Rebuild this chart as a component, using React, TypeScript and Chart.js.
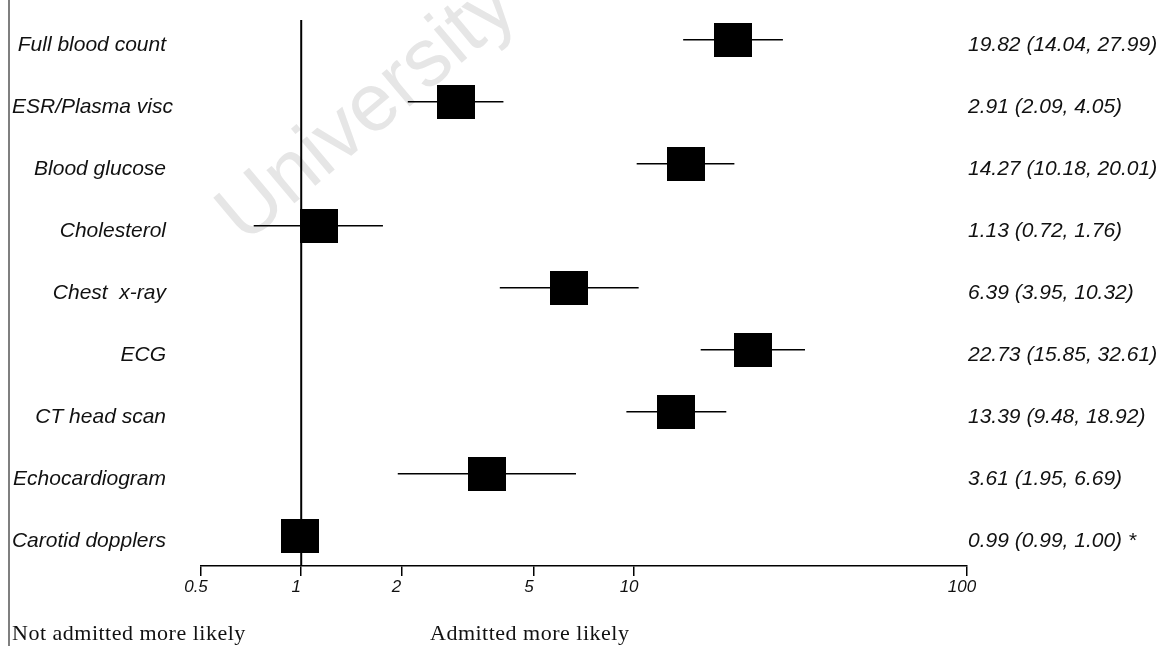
import React, { useEffect, useRef } from "react";
import { Chart, registerables } from "chart.js";

Chart.register(...registerables);

// ---------- data ----------
const categories = [
  "Full blood count",
  "ESR/Plasma visc",
  "Blood glucose",
  "Cholesterol",
  "Chest  x-ray",
  "ECG",
  "CT head scan",
  "Echocardiogram",
  "Carotid dopplers",
];
const estimates = [19.82, 2.91, 14.27, 1.13, 6.39, 22.73, 13.39, 3.61, 0.99];
const lowerCI = [14.04, 2.09, 10.18, 0.72, 3.95, 15.85, 9.48, 1.95, 0.99];
const upperCI = [27.99, 4.05, 20.01, 1.76, 10.32, 32.61, 18.92, 6.69, 1.0];
const valueLabels = [
  "19.82 (14.04, 27.99)",
  "2.91 (2.09, 4.05)",
  "14.27 (10.18, 20.01)",
  "1.13 (0.72, 1.76)",
  "6.39 (3.95, 10.32)",
  "22.73 (15.85, 32.61)",
  "13.39 (9.48, 18.92)",
  "3.61 (1.95, 6.69)",
  "0.99 (0.99, 1.00) *",
];
const tickValues = [0.5, 1, 2, 5, 10, 100];
const tickLabels = ["0.5", "1", "2", "5", "10", "100"];
const referenceValue = 1;
const footerLeft = "Not admitted more likely";
const footerRight = "Admitted more likely";
const watermarkText = "University";

// ---------- layout ----------
const W = 1162;
const H = 646;
const AXIS_Y = 566;
const TOP_Y = 16;
const Y_MIN = -0.32;
const Y_MAX = 8.49;
const SANS = '"Liberation Sans", Arial, Helvetica, sans-serif';
const SERIF = '"Liberation Serif", "Times New Roman", serif';
const labelRightX = 166;
const valueLeftX = 968;

function makeSquare(): HTMLCanvasElement {
  const c = document.createElement("canvas");
  c.width = 38;
  c.height = 34;
  const g = c.getContext("2d")!;
  g.fillStyle = "#000";
  g.fillRect(0, 0, 38, 34);
  return c;
}

const textPlugin = {
  id: "forestText",
  beforeDraw(chart: any) {
    const { ctx } = chart;
    ctx.save();
    // scan frame line on the left
    ctx.strokeStyle = "#555";
    ctx.lineWidth = 1.5;
    ctx.beginPath();
    ctx.moveTo(9, 0);
    ctx.lineTo(9, H);
    ctx.stroke();
    // watermark
    ctx.translate(368, 112);
    ctx.rotate((-40 * Math.PI) / 180);
    ctx.font = `82px ${SANS}`;
    ctx.fillStyle = "#e6e6e6";
    ctx.textAlign = "center";
    ctx.textBaseline = "middle";
    ctx.fillText(watermarkText, 0, 0);
    ctx.restore();
  },
  afterDraw(chart: any) {
    const { ctx } = chart;
    const y = chart.scales.y;
    ctx.save();
    ctx.fillStyle = "#111";
    ctx.textBaseline = "alphabetic";
    ctx.font = `italic 21px ${SANS}`;
    categories.forEach((c, i) => {
      const py = y.getPixelForValue(i) + 11;
      if (i === 1) {
        ctx.textAlign = "left";
        ctx.fillText(c, 12, py);
      } else {
        ctx.textAlign = "right";
        ctx.fillText(c, labelRightX, py);
      }
      ctx.textAlign = "left";
      ctx.fillText(valueLabels[i], valueLeftX, py);
    });
    ctx.font = `22px ${SERIF}`;
    try {
      (ctx as any).letterSpacing = "0.5px";
    } catch (e) {}
    ctx.textAlign = "left";
    ctx.fillText(footerLeft, 12, 640);
    ctx.fillText(footerRight, 430, 640);
    ctx.restore();
  },
};

export default function App() {
  const ref = useRef<HTMLCanvasElement>(null);
  useEffect(() => {
    if (!ref.current) return;
    const square = makeSquare();
    const whiskers = categories.map((_, i) => ({
      data: [
        { x: lowerCI[i], y: i },
        { x: upperCI[i], y: i },
      ],
      showLine: true,
      borderColor: "#000",
      borderWidth: 1.5,
      pointRadius: 0,
      order: 2,
      clip: false as any,
    }));
    const chart = new Chart(ref.current, {
      type: "scatter",
      data: {
        datasets: [
          {
            data: estimates.map((v, i) => ({ x: v, y: i })),
            pointStyle: square as any,
            pointRadius: 19,
            backgroundColor: "#000",
            borderColor: "#000",
            order: 0,
            clip: false as any,
          },
          {
            data: [
              { x: referenceValue, y: Y_MIN },
              { x: referenceValue, y: Y_MAX },
            ],
            showLine: true,
            borderColor: "#000",
            borderWidth: 2,
            pointRadius: 0,
            order: 1,
            clip: false as any,
          },
          ...whiskers,
        ] as any,
      },
      options: {
        responsive: false,
        animation: false,
        events: [],
        layout: { padding: { left: 201, right: W - 967, top: TOP_Y, bottom: 0 } },
        plugins: { legend: { display: false }, tooltip: { enabled: false } },
        scales: {
          x: {
            type: "logarithmic",
            min: 0.5,
            max: 100,
            position: "bottom",
            afterBuildTicks: (s: any) => {
              s.ticks = tickValues.map((v) => ({ value: v }));
            },
            afterFit: (s: any) => {
              s.height = H - AXIS_Y;
            },
            ticks: {
              callback: (_v: any, i: number) => tickLabels[i],
              font: { family: SANS, size: 17, style: "italic" },
              color: "#111",
              padding: 1,
              maxRotation: 0,
              autoSkip: false,
              labelOffset: -5,
            },
            grid: {
              display: true,
              drawOnChartArea: false,
              drawTicks: true,
              tickLength: 10,
              color: "#000",
              lineWidth: 1.5,
            },
            border: { display: true, color: "#000", width: 1.5 },
          } as any,
          y: {
            type: "linear",
            min: Y_MIN,
            max: Y_MAX,
            reverse: true,
            display: false,
          },
        },
      },
      plugins: [textPlugin],
    });
    return () => chart.destroy();
  }, []);
  return (
    <div style={{ position: "fixed", left: 0, top: 0, width: W, height: H, background: "#fff" }}>
      <canvas ref={ref} width={W} height={H} style={{ display: "block" }} />
    </div>
  );
}
